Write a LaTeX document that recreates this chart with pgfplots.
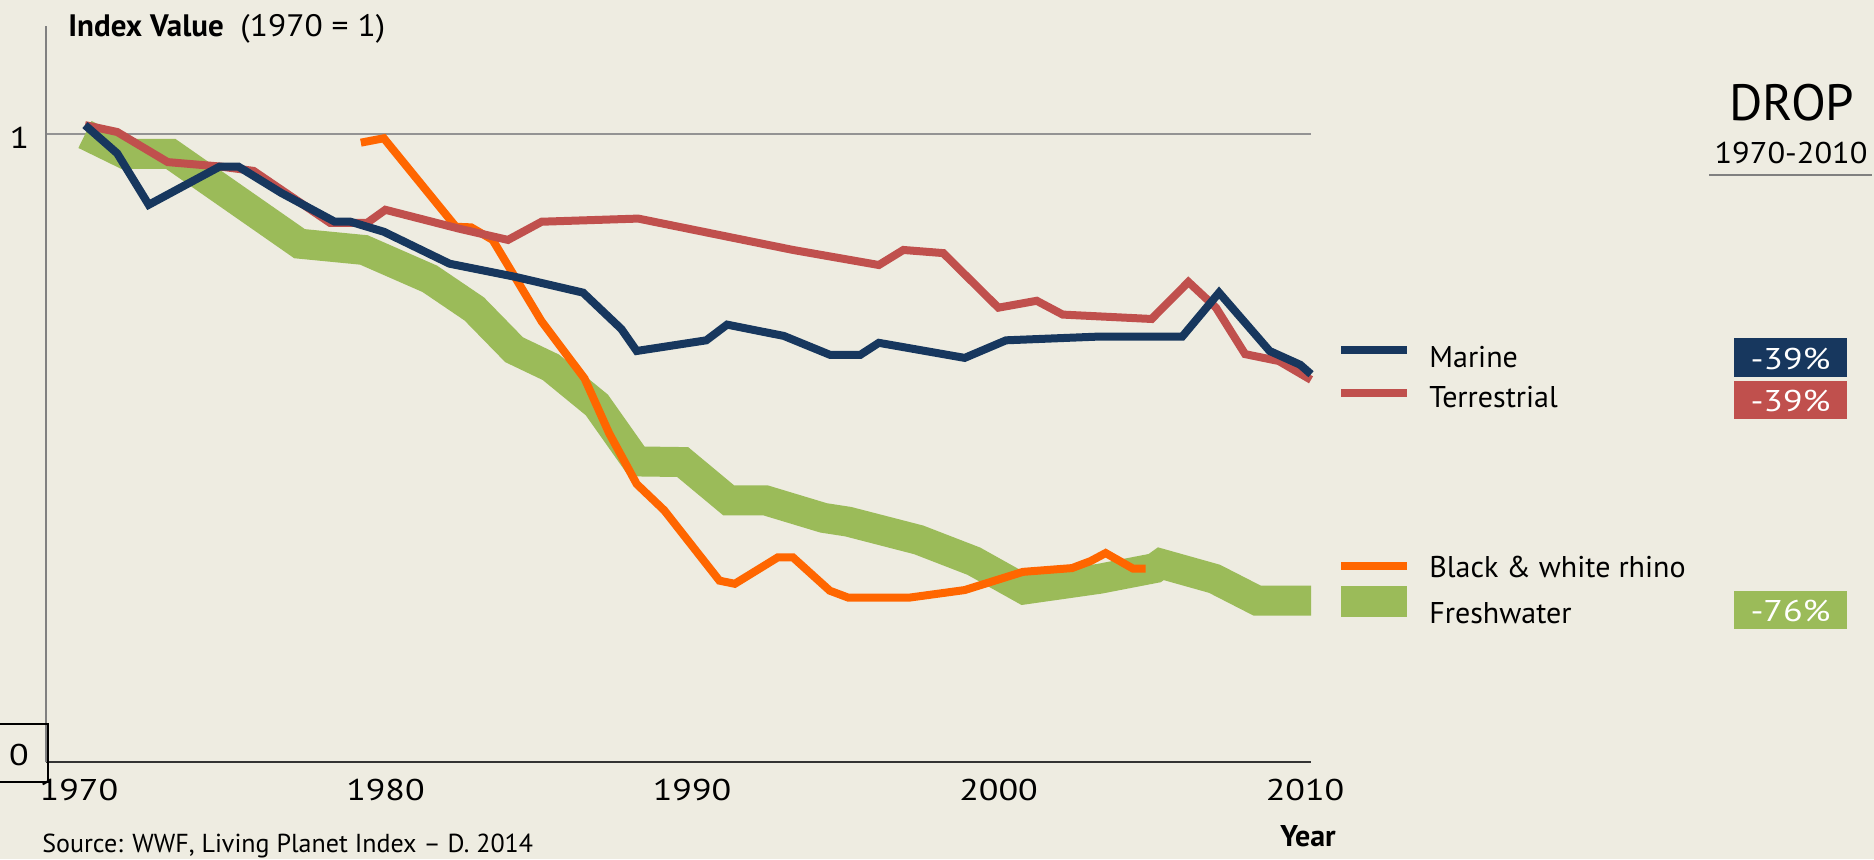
\documentclass[border=0pt]{standalone}
\usepackage{pgfplots}
\pgfplotsset{compat=1.18}
\usepackage{fontspec}
\setmainfont{PT Sans}
\newfontfamily\widefont{PT Sans}[FakeStretch=1.2]
\newfontfamily\midfont{PT Sans}[FakeStretch=1.08]
\definecolor{bg}{HTML}{EEECE1}
\definecolor{marine}{HTML}{17375E}
\definecolor{terr}{HTML}{C0504D}
\definecolor{rhino}{HTML}{FF6600}
\definecolor{fresh}{HTML}{9BBB59}
\newcommand{\mf}{\fontsize{15}{18}\selectfont}
\newcommand{\wf}{\widefont\fontsize{15}{18}\selectfont}
\begin{document}
\begin{tikzpicture}
\fill[bg] (0,0) rectangle (937pt,429.5pt);
\begin{axis}[
  at={(23pt,48.5pt)}, anchor=south west,
  scale only axis, width=632.5pt, height=368pt,
  xmin=1968.728, xmax=2010, ymin=0, ymax=1.1729,
  clip=false,
  axis x line*=bottom, axis y line*=left,
  x axis line style={-, black!80, line width=1pt},
  y axis line style={-, gray, line width=1pt},
  major tick length=0pt,
  xtick={1970,1980,1990,2000,2010},
  xticklabels={1970,1980,1990,2000,2010},
  xticklabel style={font=\wf, anchor=north, inner sep=0pt, yshift=-8.5pt, xshift=-3pt},
  ytick={1}, yticklabels={},
  ymajorgrids, grid style={gray!85, line width=1pt},
]
\addplot[fresh, line width=15pt] coordinates {
(1970.0,1.000) (1971.3,0.969) (1972.8,0.969) (1977.0,0.826) (1979.1,0.816)
(1981.25,0.770) (1982.7,0.722) (1984.0,0.657) (1985.2,0.629) (1986.7,0.569)
(1988.0,0.479) (1989.5,0.478) (1991.0,0.417) (1992.2,0.417) (1994.1,0.389)
(1994.9,0.383) (1997.2,0.354) (1999.0,0.320) (2000.65,0.275) (2003.1,0.292)
(2004.9,0.309) (2005.1,0.316) (2006.85,0.292) (2008.25,0.257) (2010,0.257)};
\addplot[rhino, line width=4pt] coordinates {
(1979.0,0.987) (1979.75,0.994) (1982.1,0.853) (1982.6,0.852) (1983.3,0.832)
(1984.9,0.702) (1986.3,0.611) (1987.1,0.524) (1988.0,0.443) (1988.9,0.401)
(1990.7,0.289) (1991.2,0.284) (1992.6,0.326) (1993.1,0.326) (1994.3,0.273)
(1994.9,0.262) (1996.9,0.262) (1998.7,0.274) (2000.6,0.303) (2002.2,0.309)
(2002.8,0.320) (2003.3,0.333) (2004.2,0.308) (2004.6,0.308)};
\addplot[terr, line width=4pt] coordinates {
(1970.0,1.015) (1971.05,1.004) (1972.7,0.956) (1974.4,0.949) (1975.5,0.942)
(1978.0,0.859) (1979.2,0.859) (1979.8,0.880) (1982.2,0.850) (1983.8,0.832)
(1984.9,0.861) (1988.05,0.866) (1993.1,0.816) (1995.9,0.792) (1996.7,0.816)
(1998.0,0.811) (1999.8,0.724) (2001.05,0.735) (2001.9,0.713) (2004.8,0.706)
(2006.0,0.765) (2006.9,0.724) (2007.85,0.650) (2008.95,0.639) (2010,0.609)};
\addplot[marine, line width=4pt] coordinates {
(1970.0,1.015) (1971.05,0.970) (1972.08,0.888) (1974.4,0.949) (1975.0,0.949)
(1976.4,0.907) (1978.15,0.861) (1978.66,0.861) (1979.75,0.845) (1981.9,0.794)
(1984.05,0.773) (1986.25,0.748) (1987.5,0.690) (1988.0,0.655) (1990.27,0.672)
(1990.95,0.697) (1992.8,0.679) (1994.3,0.649) (1995.3,0.649) (1995.9,0.668)
(1998.7,0.644) (2000.05,0.672) (2003.1,0.678) (2005.8,0.678) (2007.0,0.748)
(2008.65,0.655) (2009.65,0.633) (2010,0.618)};
\end{axis}
% y tick labels
\node[font=\wf, anchor=base, inner sep=0pt] at (9.75pt,355.5pt) {1};
\node[font=\wf, anchor=base, inner sep=0pt] at (9.5pt,47pt) {0};
\draw[black, line width=0.75pt] (-1pt,67.5pt) -- (24pt,67.5pt) -- (24pt,38.5pt) -- (-1pt,38.5pt);
% title
\node[font=\fontsize{15.5}{18}\selectfont, anchor=base west, inner sep=0pt] at (34pt,411pt) {\textbf{Index Value}\ \ {\midfont(1970 = 1)}};
% Year
\node[font=\mf\bfseries, anchor=base, inner sep=0pt] at (654pt,6.5pt) {Year};
% source
\node[font=\fontsize{13}{15}\selectfont, anchor=base west, inner sep=0pt] at (21pt,3.2pt) {Source: WWF, Living Planet Index -- D. 2014};
% DROP
\node[font=\fontsize{25.5}{28}\selectfont, anchor=base, inner sep=0pt] at (896pt,369pt) {DROP};
\node[font=\midfont\fontsize{15}{18}\selectfont, anchor=base, inner sep=0pt] at (895.5pt,348pt) {1970-2010};
\draw[gray, line width=0.75pt] (854.5pt,342pt) -- (936pt,342pt);
% legend
\draw[marine, line width=4pt] (670.5pt,254.5pt) -- (703.5pt,254.5pt);
\draw[terr, line width=4pt] (670.5pt,233.25pt) -- (703.5pt,233.25pt);
\draw[rhino, line width=4pt] (670.5pt,146.5pt) -- (703.5pt,146.5pt);
\fill[fresh] (670.5pt,121pt) rectangle (703.5pt,136.5pt);
\node[font=\mf, anchor=base west, inner sep=0pt] at (714.5pt,246pt) {Marine};
\node[font=\mf, anchor=base west, inner sep=0pt] at (714.5pt,226pt) {Terrestrial};
\node[font=\mf, anchor=base west, inner sep=0pt] at (714.5pt,141pt) {Black \& white rhino};
\node[font=\mf, anchor=base west, inner sep=0pt] at (714.5pt,118pt) {Freshwater};
\fill[marine] (867pt,241pt) rectangle (923.5pt,260.5pt);
\fill[terr] (867pt,220pt) rectangle (923.5pt,239pt);
\fill[fresh] (867pt,115pt) rectangle (923.5pt,134pt);
\node[font=\wf, text=white, anchor=base, inner sep=0pt] at (895.25pt,245pt) {-39\%};
\node[font=\wf, text=white, anchor=base, inner sep=0pt] at (895.25pt,224pt) {-39\%};
\node[font=\wf, text=white, anchor=base, inner sep=0pt] at (895.25pt,119pt) {-76\%};
\pgfresetboundingbox
\path (0,0) rectangle (937pt,429.5pt);
\end{tikzpicture}
\end{document}
